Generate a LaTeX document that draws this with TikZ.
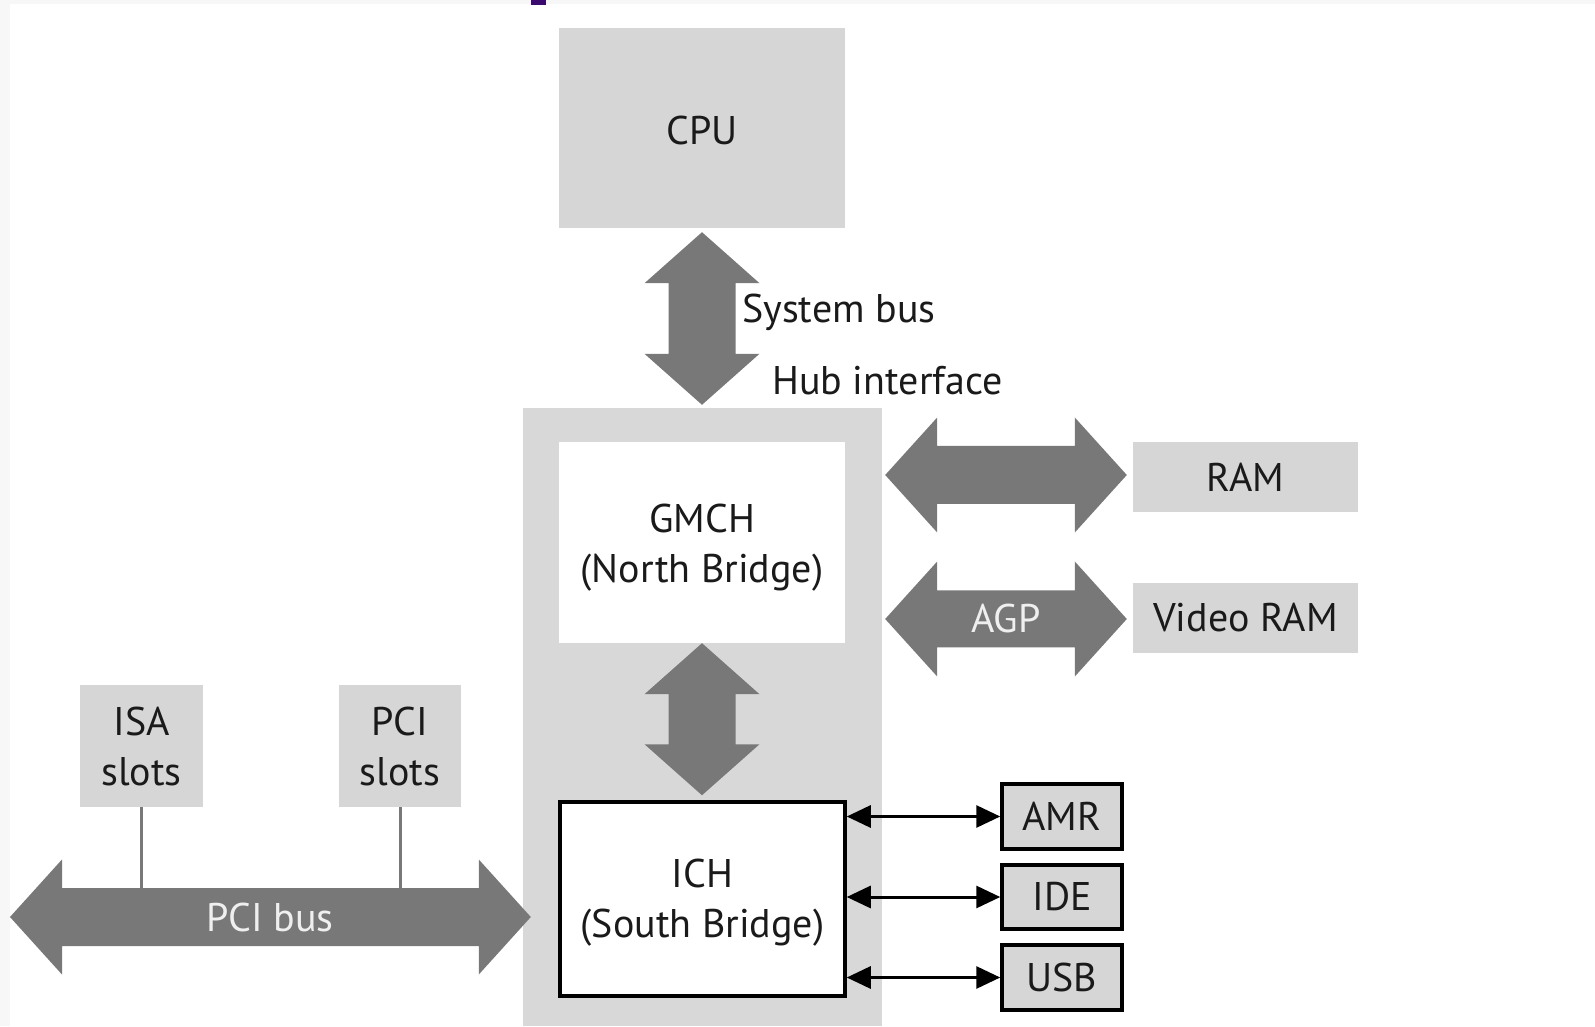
\documentclass[tikz,border=0pt]{standalone}
\usepackage{fontspec}
\setmainfont{PT Sans}
\usetikzlibrary{arrows.meta,calc}
\definecolor{boxgray}{HTML}{D6D6D6}
\definecolor{hubgray}{HTML}{D8D8D8}
\definecolor{arrgray}{HTML}{787878}
\definecolor{txt}{HTML}{1A1A1A}
\definecolor{edgegray}{HTML}{F7F7F7}
\definecolor{markpurple}{HTML}{3B0A6E}
\definecolor{ltext}{HTML}{EFEFEF}
% vertical fat double arrow: #1 top tip, #2 bottom tip
\newcommand\vdarrow[2]{%
  \fill[arrgray] let \p1=(#1), \p2=(#2) in
   (\x1,\y1) -- (\x1+57.5pt,\y1-51pt) -- (\x1+33.5pt,\y1-51pt) -- (\x1+33.5pt,\y2+51pt)
   -- (\x1+57.5pt,\y2+51pt) -- (\x1,\y2) -- (\x1-57.5pt,\y2+51pt) -- (\x1-33.5pt,\y2+51pt)
   -- (\x1-33.5pt,\y1-51pt) -- (\x1-57.5pt,\y1-51pt) -- cycle;}
% horizontal fat double arrow: #1 left tip, #2 right tip, #3 shaft half width
\newcommand\hdarrow[3]{%
  \fill[arrgray] let \p1=(#1), \p2=(#2) in
   (\x1,\y1) -- (\x1+52pt,\y1+57.5pt) -- (\x1+52pt,\y1+#3) -- (\x2-52pt,\y1+#3)
   -- (\x2-52pt,\y1+57.5pt) -- (\x2,\y1) -- (\x2-52pt,\y1-57.5pt) -- (\x2-52pt,\y1-#3)
   -- (\x1+52pt,\y1-#3) -- (\x1+52pt,\y1-57.5pt) -- cycle;}
\begin{document}
\begin{tikzpicture}[x=1pt,y=1pt,
  lab/.style={font=\fontsize{40}{50}\selectfont, text=txt, align=center},
  gbox/.style={lab, fill=boxgray, inner sep=0pt},
  kbox/.style={lab, fill=boxgray, draw=black, line width=3.5pt, inner sep=0pt},
  link/.style={draw=black, line width=3pt, {Triangle[length=24pt,width=22pt]}-{Triangle[length=24pt,width=22pt]}},
  stub/.style={draw=arrgray, line width=3pt}]
\useasboundingbox (0,0) rectangle (1595,1026);
\fill[edgegray] (0,0) rectangle (1595,1026);
\fill[white] (10,0) rectangle (1595,1022);
\fill[markpurple] (531,1021) rectangle (546,1026);

% boxes
\node[fill=hubgray, minimum width=359pt, minimum height=618pt, inner sep=0pt] (hub) at (702.5,309) {};
\node[gbox, minimum width=286pt, minimum height=200pt] (cpu) at (702,898) {};
\node[lab] (cputext) at ($(cpu.center)+(0,-3)$) {CPU};
\node[fill=white, minimum width=286pt, minimum height=201pt, inner sep=0pt] (gmch) at (702,483.5) {};
\node[lab] (gmchtext) at ($(gmch.center)+(0,-5)$) {GMCH\\(North Bridge)};
\node[fill=white, draw=black, line width=3.5pt, minimum width=285pt, minimum height=194pt, inner sep=0pt] (ich) at (702.5,127) {};
\node[lab] (ichtext) at ($(ich.center)+(0,-4)$) {ICH\\(South Bridge)};
\node[gbox, minimum width=225pt, minimum height=70pt] (ram) at (1245.5,549) {RAM};
\node[gbox, minimum width=225pt, minimum height=70pt] (vram) at (1245.5,408) {Video RAM};
\node[kbox, minimum width=120pt, minimum height=65pt] (amr) at (1062,209.5) {AMR};
\node[kbox, minimum width=120pt, minimum height=64pt] (ide) at (1062,129) {IDE};
\node[kbox, minimum width=120pt, minimum height=65pt] (usb) at (1062,48.5) {USB};
\node[gbox, minimum width=123pt, minimum height=122pt] (isa) at (141.5,280) {ISA\\slots};
\node[gbox, minimum width=122pt, minimum height=122pt] (pcis) at (400,280) {PCI\\slots};

% system bus
\coordinate (sbT) at ($(cpu.south)+(0,-4)$);
\coordinate (sbB) at ($(hub.north)+(0,3)$);
\vdarrow{sbT}{sbB}
% north-south
\coordinate (mT) at (gmch.south);
\coordinate (mB) at ($(ich.north)+(0,5)$);
\vdarrow{mT}{mB}
% RAM
\coordinate (ramL) at ($(hub.east |- ram.west)+(3,2)$);
\coordinate (ramR) at ($(ram.west)+(-6,2)$);
\hdarrow{ramL}{ramR}{29pt}
% AGP
\coordinate (agpL) at ($(hub.east |- vram.west)+(3,-1)$);
\coordinate (agpR) at ($(vram.west)+(-6,-1)$);
\hdarrow{agpL}{agpR}{28.5pt}
\node[lab, text=ltext] (agp) at ($(agpL)!0.5!(agpR)$) {AGP};
% PCI bus
\coordinate (busL) at (10,109);
\coordinate (busR) at ($(busL -| hub.west)+(8,0)$);
\draw[stub] (isa.south) -- (isa.south |- busL);
\draw[stub] (pcis.south) -- (pcis.south |- busL);
\hdarrow{busL}{busR}{29pt}
\node[lab, text=ltext] (pcibus) at ($(busL)!0.5!(busR)$) {PCI bus};

% ICH links
\draw[link] (ich.east |- amr.west) -- (amr.west);
\draw[link] (ich.east |- ide.west) -- (ide.west);
\draw[link] (ich.east |- usb.west) -- (usb.west);

% labels
\node[lab, anchor=base west, inner sep=0pt] (sysbus) at (742,703) {System bus};
\node[lab, anchor=base west, inner sep=0pt] (hubif) at (772,631) {Hub interface};
\end{tikzpicture}
\end{document}
